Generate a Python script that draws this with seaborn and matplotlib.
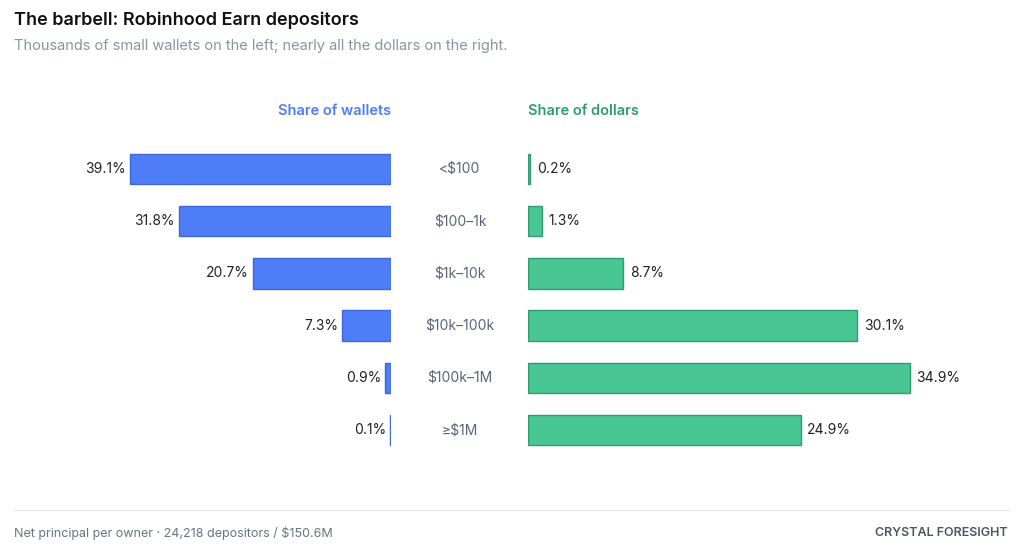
import matplotlib
matplotlib.use("Agg")
import matplotlib.pyplot as plt
import seaborn as sns
import pandas as pd
from matplotlib.lines import Line2D

categories = ["<$100", "$100–1k", "$1k–10k", "$10k–100k", "$100k–1M", "≥$1M"]
wallets = [39.1, 31.8, 20.7, 7.3, 0.9, 0.1]
dollars = [0.2, 1.3, 8.7, 30.1, 34.9, 24.9]

df = pd.DataFrame({"cat": categories, "wallets": wallets, "dollars": dollars})
sns.set_theme(style="white")
plt.rcParams['font.family'] = ['Inter', 'DejaVu Sans']

W, H = 1024, 556
fig = plt.figure(figsize=(W/100, H/100), dpi=100)
top, bot = 1-143/H, 1-456/H
axL = fig.add_axes([124/W, bot, (391-124)/W, top-bot])
axR = fig.add_axes([528/W, bot, (922-528)/W, top-bot])

blue, blue_e = "#4F7CF7", "#3F67D9"
green, green_e = "#48C694", "#2E9C6E"
sns.barplot(data=df, y="cat", x="wallets", ax=axL, color=blue, width=0.58,
            edgecolor=blue_e, linewidth=1, saturation=1)
sns.barplot(data=df, y="cat", x="dollars", ax=axR, color=green, width=0.58,
            edgecolor=green_e, linewidth=1, saturation=1)
axL.set_xlim(40, 0)
axR.set_xlim(0, 36)
for ax in (axL, axR):
    ax.set_ylim(5.5, -0.5)
    ax.axis("off")
for i, v in enumerate(wallets):
    axL.text(v + 0.6, i, f"{v}%", ha="right", va="center", fontsize=10, color="#222")
for i, v in enumerate(dollars):
    axR.text(v + 0.6, i, f"{v}%", ha="left", va="center", fontsize=10, color="#222")
for i, c in enumerate(categories):
    y = 1 - (169 + i*52.2)/H
    fig.text(460/W, y, c, ha="center", va="center", fontsize=10, color="#5A6478")

fig.text(391/W, 1-111/H, "Share of wallets", ha="right", va="center", fontsize=10.5,
         color=blue, fontweight="semibold")
fig.text(528/W, 1-111/H, "Share of dollars", ha="left", va="center", fontsize=10.5,
         color="#2E9C6E", fontweight="semibold")
fig.text(14/W, 1-20/H, "The barbell: Robinhood Earn depositors", fontsize=13,
         fontweight="semibold", color="#111", va="center")
fig.text(14/W, 1-46/H, "Thousands of small wallets on the left; nearly all the dollars on the right.",
         fontsize=10.5, color="#8A93A3", va="center")
fig.add_artist(Line2D([14/W, 1010/W], [1-510/H]*2, color="#E5E7EB", lw=0.8))
fig.text(14/W, 1-533/H, "Net principal per owner · 24,218 depositors / $150.6M",
         fontsize=9, color="#6B7280", va="center")
fig.text(1008/W, 1-533/H, "CRYSTAL FORESIGHT", fontsize=9, color="#4B5563",
         va="center", ha="right", fontweight="semibold")
fig.savefig("out.png", dpi=100)
